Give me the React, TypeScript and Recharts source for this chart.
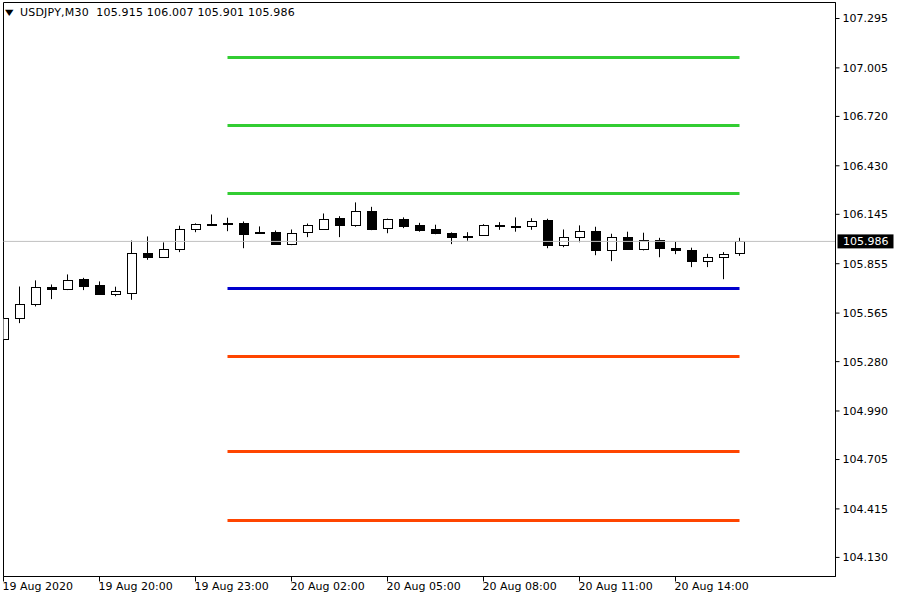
import React from 'react';
import { ComposedChart, Bar, XAxis, YAxis, ReferenceLine, ReferenceArea } from 'recharts';

const symbolTitle = 'USDJPY,M30';

const opens = [105.414, 105.538, 105.617, 105.720, 105.705, 105.768, 105.727, 105.678, 105.684, 105.915, 105.893, 105.940, 106.060, 106.090, 106.093, 106.095, 106.044, 106.044, 105.970, 106.043, 106.060, 106.121, 106.084, 106.162, 106.064, 106.115, 106.080, 106.056, 106.037, 106.017, 106.025, 106.081, 106.076, 106.078, 106.109, 105.964, 106.011, 106.048, 105.937, 106.013, 105.940, 105.996, 105.949, 105.937, 105.872, 105.896, 105.915];
const highs = [105.549, 105.721, 105.757, 105.733, 105.792, 105.772, 105.751, 105.720, 105.991, 106.015, 105.980, 106.078, 106.092, 106.144, 106.125, 106.103, 106.074, 106.050, 106.056, 106.091, 106.150, 106.134, 106.215, 106.189, 106.120, 106.127, 106.095, 106.084, 106.039, 106.040, 106.087, 106.099, 106.127, 106.122, 106.119, 106.056, 106.080, 106.072, 106.031, 106.043, 106.037, 106.007, 105.984, 105.949, 105.913, 105.923, 106.007];
const lows = [105.379, 105.506, 105.604, 105.647, 105.700, 105.700, 105.674, 105.664, 105.643, 105.878, 105.890, 105.923, 106.040, 106.080, 106.046, 105.946, 106.036, 105.966, 105.964, 106.011, 106.058, 106.011, 106.072, 106.052, 106.034, 106.064, 106.043, 106.028, 105.970, 105.990, 106.019, 106.054, 106.043, 106.054, 105.946, 105.952, 105.981, 105.905, 105.870, 105.937, 105.933, 105.893, 105.911, 105.835, 105.835, 105.764, 105.901];
const closes = [105.538, 105.620, 105.720, 105.708, 105.761, 105.723, 105.676, 105.692, 105.915, 105.893, 105.943, 106.060, 106.090, 106.082, 106.092, 106.028, 106.037, 105.970, 106.037, 106.084, 106.119, 106.084, 106.162, 106.058, 106.119, 106.075, 106.052, 106.037, 106.011, 106.017, 106.082, 106.080, 106.075, 106.107, 105.964, 106.013, 106.048, 105.937, 106.013, 105.940, 105.996, 105.949, 105.937, 105.870, 105.896, 105.913, 105.986];

const xTickIndex = [0, 6, 12, 18, 24, 30, 36, 42];
const xTickLabels = ['19 Aug 2020', '19 Aug 20:00', '19 Aug 23:00', '20 Aug 02:00', '20 Aug 05:00', '20 Aug 08:00', '20 Aug 11:00', '20 Aug 14:00'];
const yTicks = [104.130, 104.415, 104.705, 104.990, 105.280, 105.565, 105.855, 106.145, 106.430, 106.720, 107.005, 107.295];
const yDomain = [104.018, 107.389];
const xDomain = [0, 52];

const levelStart = 14;
const levelEnd = 46;
const resistanceLevels = [107.066, 106.667, 106.267];
const pivotLevel = [105.710];
const supportLevels = [105.310, 104.752, 104.347];

const data = opens.map((o, i) => ({
  i,
  open: o,
  high: highs[i],
  low: lows[i],
  close: closes[i],
  range: [lows[i], highs[i]],
}));

const last = data.length - 1;
const FONT = '"DejaVu Sans", Verdana, sans-serif';

const Candle = (props: any) => {
  const { x, y, width, height, payload } = props;
  if (x == null || y == null || !payload) return null;
  const { open, close, high, low } = payload;
  const top0 = Math.min(y, y + height);
  const h = Math.abs(height);
  const k = high - low > 0 ? h / (high - low) : 0;
  const py = (v: number) => top0 + (high - v) * k;
  const cx = Math.round(x + width / 2 - 0.5) + 0.5;
  const bull = close > open;
  const bt = Math.round(py(Math.max(open, close))) + 0.5;
  let bb = Math.round(py(Math.min(open, close))) + 0.5;
  if (bb - bt < 1) bb = bt + 1;
  return (
    <g>
      <line x1={cx} x2={cx} y1={py(high)} y2={py(low)} stroke="#000" strokeWidth={1} />
      <rect x={cx - 4} y={bt} width={9} height={bb - bt} fill={bull ? '#fff' : '#000'} stroke="#000" strokeWidth={1} />
    </g>
  );
};

const XTick = (props: any) => {
  const { x, y, payload } = props;
  const idx = xTickIndex.indexOf(payload.value);
  return (
    <text x={x - 1} y={y} dy="0.71em" textAnchor="start" fill="#000" fontSize={11} fontFamily={FONT}>
      {idx >= 0 ? xTickLabels[idx] : ''}
    </text>
  );
};

const PriceLabel = (props: any) => {
  const vb = props.viewBox || {};
  const { x = 0, y = 0, width = 0 } = vb;
  return (
    <g>
      <rect x={x + width + 2} y={y - 7} width={56} height={14} fill="#000" />
      <text x={x + width + 7.5} y={y} dy="0.355em" fill="#fff" fontSize={11} fontFamily={FONT}>
        {closes[last].toFixed(3)}
      </text>
    </g>
  );
};

export default function App() {
  const header = `${symbolTitle}  ${opens[last].toFixed(3)} ${highs[last].toFixed(3)} ${lows[last].toFixed(3)} ${closes[last].toFixed(3)}`;
  return (
    <div style={{ position: 'absolute', left: 0, top: 0, width: 900, height: 600, background: '#fff', fontFamily: FONT }}>
      <ComposedChart width={900} height={600} data={data} margin={{ top: 2.5, right: 0, bottom: 0, left: 3.5 }}>
        <XAxis
          xAxisId="t"
          type="number"
          dataKey="i"
          domain={xDomain}
          ticks={xTickIndex}
          interval={0}
          allowDataOverflow
          height={23.5}
          tickSize={5}
          tickMargin={1}
          axisLine={{ stroke: '#000' }}
          tickLine={{ stroke: '#000' }}
          tick={<XTick />}
        />
        <YAxis
          yAxisId="p"
          orientation="right"
          type="number"
          domain={yDomain}
          ticks={yTicks}
          interval={0}
          allowDataOverflow
          width={64.5}
          tickSize={4}
          tickMargin={3}
          axisLine={{ stroke: '#000' }}
          tickLine={{ stroke: '#000' }}
          tick={{ fill: '#000', fontSize: 11, fontFamily: FONT, textAnchor: 'start' }}
          tickFormatter={(v: number) => v.toFixed(3)}
        />
        <ReferenceArea
          xAxisId="t"
          yAxisId="p"
          x1={xDomain[0]}
          x2={xDomain[1]}
          y1={yDomain[0]}
          y2={yDomain[1]}
          fill="none"
          fillOpacity={0}
          stroke="#000"
          strokeWidth={1}
          ifOverflow="visible"
        />
        <ReferenceLine
          xAxisId="t"
          yAxisId="p"
          y={closes[last]}
          stroke="#C0C0C0"
          strokeWidth={1}
          ifOverflow="visible"
          label={<PriceLabel />}
        />
        {resistanceLevels.map((v, i) => (
          <ReferenceLine key={'r' + i} xAxisId="t" yAxisId="p" segment={[{ x: levelStart, y: v }, { x: levelEnd, y: v }]} stroke="#32CD32" strokeWidth={3} ifOverflow="visible" />
        ))}
        {pivotLevel.map((v, i) => (
          <ReferenceLine key={'p' + i} xAxisId="t" yAxisId="p" segment={[{ x: levelStart, y: v }, { x: levelEnd, y: v }]} stroke="#0000CD" strokeWidth={3} ifOverflow="visible" />
        ))}
        {supportLevels.map((v, i) => (
          <ReferenceLine key={'s' + i} xAxisId="t" yAxisId="p" segment={[{ x: levelStart, y: v }, { x: levelEnd, y: v }]} stroke="#FF4500" strokeWidth={3} ifOverflow="visible" />
        ))}
        <Bar xAxisId="t" yAxisId="p" dataKey="range" barSize={10} shape={Candle} isAnimationActive={false} />
      </ComposedChart>
      <div style={{ position: 'absolute', left: 5, top: 6, fontSize: 11, lineHeight: '13px', color: '#000', whiteSpace: 'pre', fontFamily: FONT }}>
        <span style={{ fontSize: 11, display: 'inline-block', width: 15, verticalAlign: 'top', lineHeight: '13px', transform: 'scaleY(0.75)' }}>▼</span>
        <span style={{ letterSpacing: '0.2px' }}>{header}</span>
      </div>
    </div>
  );
}
